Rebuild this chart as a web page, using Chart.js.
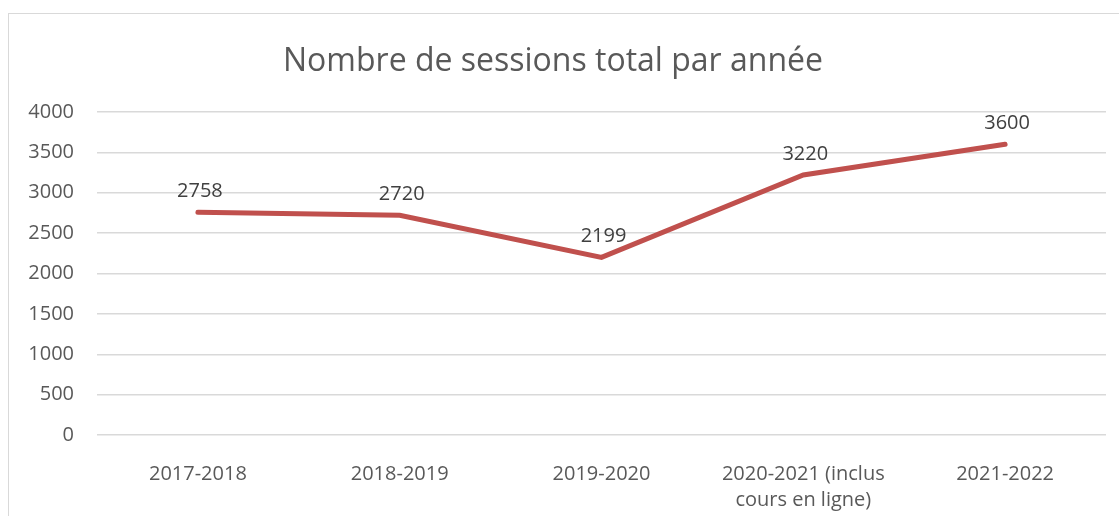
<!DOCTYPE html>
<html>
<head>
<meta charset="utf-8">
<script src="https://cdn.jsdelivr.net/npm/chart.js"></script>
<style>
  body { margin: 0; background: #fff; }
  #frame { position: absolute; left: 8px; top: 13px; width: 1130px; height: 530px; border: 1px solid #d9d9d9; }
  #wrap { position: absolute; left: 0; top: 0; width: 1119px; height: 516px; }
</style>
</head>
<body>
<div id="frame"></div>
<div id="wrap"><canvas id="chart"></canvas></div>
<script>
const years = ['2017-2018', '2018-2019', '2019-2020', ['2020-2021 (inclus', 'cours en ligne)'], '2021-2022'];
const sessions = [2758, 2720, 2199, 3220, 3600];
const yTicks = [0, 500, 1000, 1500, 2000, 2500, 3000, 3500, 4000];

const FONT = '"Open Sans", sans-serif';

// values above each point
const pointLabels = {
    id: 'pointLabels',
    afterDatasetsDraw(chart) {
        const ctx = chart.ctx;
        const meta = chart.getDatasetMeta(0);
        ctx.save();
        ctx.font = '20px ' + FONT;
        ctx.fillStyle = '#404040';
        ctx.textAlign = 'center';
        ctx.textBaseline = 'middle';
        meta.data.forEach((pt, i) => {
            ctx.fillText(String(sessions[i]), pt.x + 2, pt.y - 21);
        });
        ctx.restore();
    }
};

new Chart(document.getElementById('chart'), {
    type: 'line',
    data: {
        labels: years,
        datasets: [{
            data: sessions,
            borderColor: '#c0504d',
            borderWidth: 5,
            borderCapStyle: 'round',
            pointRadius: 0,
            fill: false,
            tension: 0
        }]
    },
    options: {
        responsive: true,
        maintainAspectRatio: false,
        animation: false,
        layout: { padding: { left: 0, right: 13, top: 0, bottom: 0 } },
        plugins: {
            legend: { display: false },
            tooltip: { enabled: false },
            title: {
                display: true,
                text: 'Nombre de sessions total par année',
                color: '#595959',
                font: { family: FONT, size: 32, weight: 'normal', lineHeight: 1.2 },
                padding: { top: 43, bottom: 30.6 }
            }
        },
        scales: {
            x: {
                offset: true,
                grid: { display: false },
                border: { display: false },
                ticks: {
                    color: '#595959',
                    font: { family: FONT, size: 20, lineHeight: 1.3 },
                    padding: 18,
                    maxRotation: 0,
                    autoSkip: false
                },
                afterFit(scale) { scale.height = 81; }
            },
            y: {
                min: 0,
                max: 4000,
                afterBuildTicks(scale) { scale.ticks = yTicks.map(v => ({ value: v })); },
                grid: { color: '#d9d9d9', lineWidth: 1.5, drawTicks: false },
                border: { display: false },
                ticks: {
                    color: '#595959',
                    font: { family: FONT, size: 20 },
                    padding: 23,
                    callback: v => String(v)
                },
                afterFit(scale) { scale.width = 97; }
            }
        }
    },
    plugins: [pointLabels]
});
</script>
</body>
</html>
